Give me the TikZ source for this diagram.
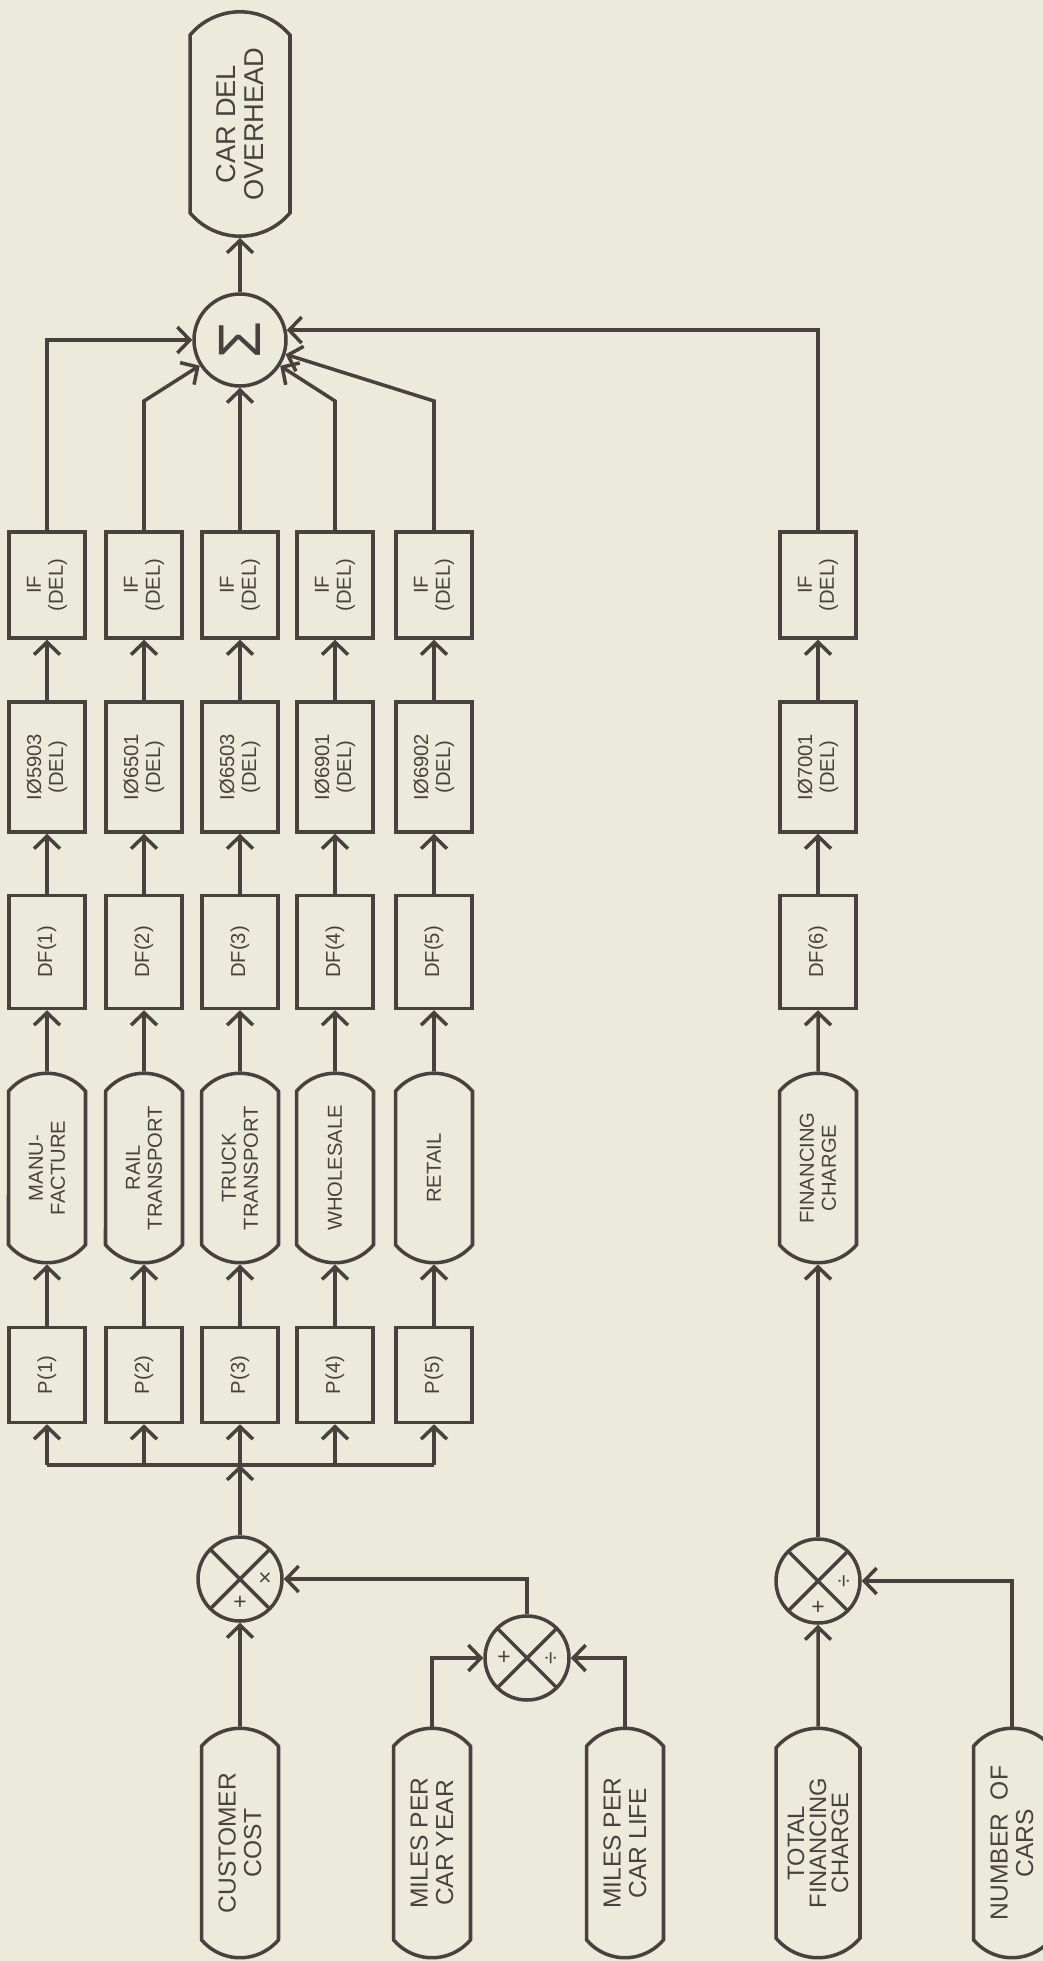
\documentclass[tikz,border=0pt]{standalone}
\usepackage{fontspec}
\setmainfont{Liberation Sans}
\usepackage{tikz}
\usetikzlibrary{shapes.misc,arrows.meta,positioning}

\definecolor{paper}{RGB}{236,234,219}
\definecolor{ink}{RGB}{72,66,62}

\begin{document}
\begin{tikzpicture}[
    x=0.02cm, y=-0.02cm,
    block/.style={rectangle, draw=ink, text=ink, line width=2pt, rotate=90, align=center, minimum height=1.52cm, inner sep=1pt, font=\fontsize{11.5}{12.5}\selectfont},
    pblock/.style={block, minimum width=1.9cm},
    dfblock/.style={block, minimum width=2.26cm},
    ioblock/.style={block, minimum width=2.6cm},
    ifblock/.style={block, minimum width=2.12cm},
    stage/.style={rounded rectangle, rounded rectangle arc length=100, draw=ink, text=ink, line width=2pt, rotate=90, align=center, minimum height=1.54cm, minimum width=3.86cm, inner sep=1pt, font=\fontsize{11.5}{12.5}\selectfont},
    source/.style={stage, minimum width=4.66cm, font=\fontsize{14}{14.5}\selectfont},
    mult/.style={circle, draw=ink, line width=2pt, minimum size=1.68cm, inner sep=0pt,
        path picture={\draw[ink, line width=2pt] (path picture bounding box.north west) -- (path picture bounding box.south east)
            (path picture bounding box.south west) -- (path picture bounding box.north east);}},
    sign/.style={text=ink, inner sep=0pt, font=\fontsize{13}{13}\selectfont},
    line/.style={draw=ink, line width=2pt, -{Straight Barb[length=2.5mm, width=5.2mm]}},
    wire/.style={draw=ink, line width=2pt}
]
    \useasboundingbox (0,0) rectangle (1043,1961);
    \fill[paper] (0,0) rectangle (1043,1961);

    % result
    \node [source, minimum width=4.56cm, minimum height=2.0cm, font=\fontsize{15.5}{16}\selectfont] (overhead) at (240,124) {CAR DEL\\OVERHEAD};
    \node [circle, draw=ink, text=ink, line width=2pt, minimum size=1.84cm, inner sep=0pt] (sum) at (240,340) {\rotatebox{90}{\fontsize{34}{34}\selectfont Σ}};

    % manufacture
    \node [pblock] (p1) at (47,1375) {P(1)};
    \node [stage] (manu) at (47,1168) {MANU-\\FACTURE};
    \node [dfblock] (df1) at (47,952) {DF(1)};
    \node [ioblock] (io1) at (47,767) {IØ5903\\(DEL)};
    \node [ifblock] (if1) at (47,585) {IF\\(DEL)};

    % rail transport
    \node [pblock] (p2) at (144,1375) {P(2)};
    \node [stage] (rail) at (144,1168) {RAIL\\TRANSPORT};
    \node [dfblock] (df2) at (144,952) {DF(2)};
    \node [ioblock] (io2) at (144,767) {IØ6501\\(DEL)};
    \node [ifblock] (if2) at (144,585) {IF\\(DEL)};

    % truck transport
    \node [pblock] (p3) at (240,1375) {P(3)};
    \node [stage] (truck) at (240,1168) {TRUCK\\TRANSPORT};
    \node [dfblock] (df3) at (240,952) {DF(3)};
    \node [ioblock] (io3) at (240,767) {IØ6503\\(DEL)};
    \node [ifblock] (if3) at (240,585) {IF\\(DEL)};

    % wholesale
    \node [pblock] (p4) at (335,1375) {P(4)};
    \node [stage] (whole) at (335,1168) {WHOLESALE};
    \node [dfblock] (df4) at (335,952) {DF(4)};
    \node [ioblock] (io4) at (335,767) {IØ6901\\(DEL)};
    \node [ifblock] (if4) at (335,585) {IF\\(DEL)};

    % retail
    \node [pblock] (p5) at (434,1375) {P(5)};
    \node [stage] (retail) at (434,1168) {RETAIL};
    \node [dfblock] (df5) at (434,952) {DF(5)};
    \node [ioblock] (io5) at (434,767) {IØ6902\\(DEL)};
    \node [ifblock] (if5) at (434,585) {IF\\(DEL)};

    % financing
    \node [stage] (fincharge) at (818,1168) {FINANCING\\CHARGE};
    \node [dfblock] (df6) at (818,952) {DF(6)};
    \node [ioblock] (io6) at (818,767) {IØ7001\\(DEL)};
    \node [ifblock] (if6) at (818,585) {IF\\(DEL)};

    % operators
    \node [mult] (mcost) at (240,1579) {};
    \node [sign] at ([yshift=-0.48cm]mcost.center) {+};
    \node [sign] at ([xshift=0.5cm]mcost.center) {×};
    \node [mult] (mmiles) at (527,1658) {};
    \node [sign] at ([xshift=-0.46cm]mmiles.center) {+};
    \node [sign, rotate=90] at ([xshift=0.5cm]mmiles.center) {÷};
    \node [mult] (mfin) at (818,1581) {};
    \node [sign] at ([yshift=-0.54cm]mfin.center) {+};
    \node [sign, rotate=90] at ([xshift=0.54cm]mfin.center) {÷};

    % inputs
    \node [source] (cost) at (240,1843) {CUSTOMER\\COST};
    \node [source] (peryear) at (432,1843) {MILES PER\\CAR YEAR};
    \node [source] (perlife) at (625,1843) {MILES PER\\CAR LIFE};
    \node [source, minimum height=1.68cm, font=\fontsize{13.5}{12.5}\selectfont] (totalfin) at (818,1843) {TOTAL\\FINANCING\\CHARGE};
    \node [source] (cars) at (1012,1843) {NUMBER~~OF\\CARS};

    \coordinate (bus) at (240,1465);
    \coordinate (knee) at (0,401);

    % input side
    \draw [line] (cost) -- (mcost);
    \draw [line] (peryear) |- (mmiles);
    \draw [line] (perlife) |- (mmiles);
    \draw [line] (mmiles) |- (mcost);
    \draw [line] (mcost) -- (bus);
    \draw [wire] (p1 |- bus) -- (p5 |- bus);
    \draw [line] (p1 |- bus) -- (p1);
    \draw [line] (p2 |- bus) -- (p2);
    \draw [line] (p3 |- bus) -- (p3);
    \draw [line] (p4 |- bus) -- (p4);
    \draw [line] (p5 |- bus) -- (p5);
    \draw [line] (totalfin) -- (mfin);
    \draw [line] (cars) |- (mfin);
    \draw [line] (mfin) -- (fincharge);

    % columns
    \draw [line] (p1) -- (manu);
    \draw [line] (manu) -- (df1);
    \draw [line] (df1) -- (io1);
    \draw [line] (io1) -- (if1);
    \draw [line] (p2) -- (rail);
    \draw [line] (rail) -- (df2);
    \draw [line] (df2) -- (io2);
    \draw [line] (io2) -- (if2);
    \draw [line] (p3) -- (truck);
    \draw [line] (truck) -- (df3);
    \draw [line] (df3) -- (io3);
    \draw [line] (io3) -- (if3);
    \draw [line] (p4) -- (whole);
    \draw [line] (whole) -- (df4);
    \draw [line] (df4) -- (io4);
    \draw [line] (io4) -- (if4);
    \draw [line] (p5) -- (retail);
    \draw [line] (retail) -- (df5);
    \draw [line] (df5) -- (io5);
    \draw [line] (io5) -- (if5);
    \draw [line] (fincharge) -- (df6);
    \draw [line] (df6) -- (io6);
    \draw [line] (io6) -- (if6);

    % into the sum
    \draw [line] (if1) |- (sum);
    \draw [line] (if2) -- (if2 |- knee) -- (sum);
    \draw [line] (if3) -- (sum);
    \draw [line] (if4) -- (if4 |- knee) -- (sum);
    \draw [line] (if5) -- (if5 |- knee) -- (sum);
    \draw [line] (if6) |- (sum.12);
    \draw [line] (sum) -- (overhead);
\end{tikzpicture}
\end{document}
